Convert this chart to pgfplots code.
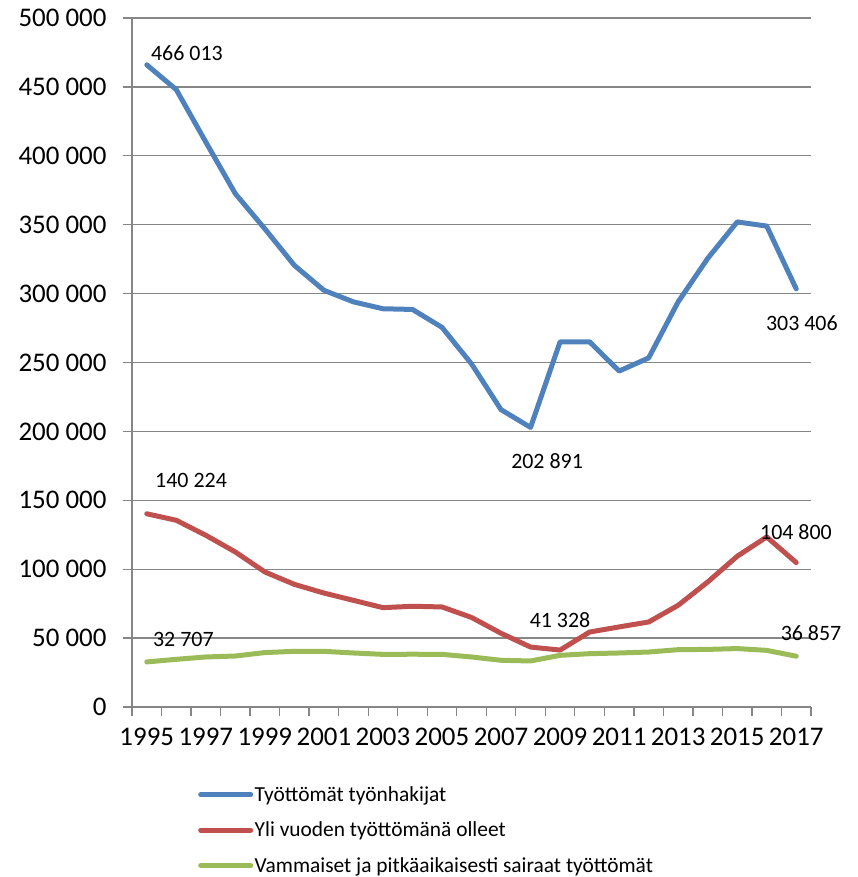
\documentclass[border=0pt]{standalone}
\usepackage{fontspec}
\setmainfont{Carlito}
\usepackage{pgfplots}
\usepackage{pgfplotstable}
\pgfplotsset{compat=1.18}
\definecolor{cblue}{HTML}{4F81BD}
\definecolor{cred}{HTML}{C0504D}
\definecolor{cgreen}{HTML}{9BBB59}
\definecolor{cgrid}{HTML}{868686}
\newcommand{\legfont}{\fontsize{21.5}{25}\selectfont}

\pgfplotstableread{
i year blue red green
0 1995 466013 140224 32707
1 1996 448000 135500 34600
2 1997 410000 124600 36300
3 1998 372500 112500 37000
4 1999 347000 98000 39500
5 2000 320500 89000 40400
6 2001 302400 82700 40400
7 2002 294000 77400 39200
8 2003 289000 72100 38200
9 2004 288500 73100 38300
10 2005 275500 72600 38200
11 2006 249000 65000 36300
12 2007 215800 53500 33900
13 2008 202891 43500 33400
14 2009 265000 41328 37500
15 2010 265000 54400 38700
16 2011 243800 58100 39200
17 2012 253300 61700 39900
18 2013 294000 73800 41600
19 2014 325500 90700 41800
20 2015 352000 109400 42400
21 2016 349000 123400 41100
22 2017 303406 104800 36857
}\datatable

\begin{document}
\begin{tikzpicture}
\useasboundingbox (-132bp,-170bp) rectangle (726bp,707bp);
\begin{axis}[
  at={(0,0)}, anchor=south west,
  width=679bp, height=689bp, scale only axis,
  clip=false,
  xmin=-0.5, xmax=22.5, ymin=0, ymax=500000,
  axis x line*=bottom, axis y line*=left,
  axis line style={cgrid, line width=1.3bp},
  xtick={0,2,4,6,8,10,12,14,16,18,20,22},
  xticklabels={1995,1997,1999,2001,2003,2005,2007,2009,2011,2013,2015,2017},
  minor xtick={-0.5,0.5,...,22.5},
  ytick={0,50000,100000,150000,200000,250000,300000,350000,400000,450000,500000},
  yticklabels={0,50 000,100 000,150 000,200 000,250 000,300 000,350 000,400 000,450 000,500 000},
  scaled y ticks=false,
  xtick pos=bottom, ytick pos=left,
  tick align=outside,
  major tick length=9bp, minor tick length=9bp,
  major x tick style={draw=none},
  minor x tick style={cgrid, line width=1.3bp},
  major y tick style={cgrid, line width=1.3bp},
  ymajorgrids, major grid style={cgrid, line width=1.3bp},
  tick label style={font=\fontsize{27}{31}\selectfont, text=black},
  xticklabel style={yshift=-9bp},
  yticklabel style={xshift=-13bp},
  legend style={at={(0.0972,-0.113)}, anchor=north west, draw=none, fill=none,
    row sep=16bp, inner sep=0pt,
    nodes={inner sep=1.5bp}},
  legend cell align=left,
  legend image code/.code={\draw[#1, line width=5bp, line cap=round] (0bp,0bp) -- (50bp,0bp);},
  every axis plot/.append style={line width=5bp, line cap=round, line join=round, no markers},
]
\addplot[cblue] table[x=i, y=blue] {\datatable};
\addlegendentry{\legfont Työttömät työnhakijat}
\addplot[cred] table[x=i, y=red] {\datatable};
\addlegendentry{\legfont Yli vuoden työttömänä olleet}
\addplot[cgreen] table[x=i, y=green] {\datatable};
\addlegendentry{\legfont Vammaiset ja pitkäaikaisesti sairaat työttömät}

\begin{scope}[every node/.style={font=\fontsize{22}{26}\selectfont, inner sep=0pt}]
\node at (axis cs:1.36,474600) {466 013};
\node at (axis cs:22.19,278800) {303 406};
\node at (axis cs:13.56,178700) {202 891};
\node at (axis cs:1.50,164200) {140 224};
\node at (axis cs:21.99,127100) {104 800};
\node at (axis cs:14.0,62900) {41 328};
\node at (axis cs:22.5,53300) {36 857};
\node at (axis cs:1.24,48900) {32 707};
\end{scope}
\end{axis}
\end{tikzpicture}
\end{document}
